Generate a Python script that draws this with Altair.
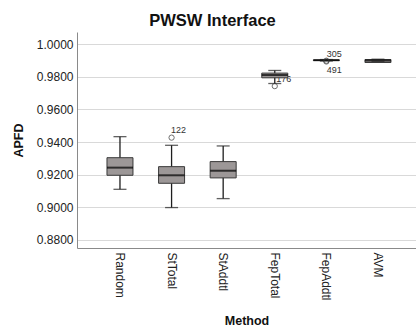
import altair as alt
import pandas as pd

methods = ["Random", "StTotal", "StAddtl", "FepTotal", "FepAddtl", "AVM"]
lower = [0.9110, 0.8998, 0.9053, 0.9759, 0.9897, 0.9896]
q1 = [0.9196, 0.9147, 0.9180, 0.9794, 0.9900, 0.9888]
median = [0.9243, 0.9196, 0.9224, 0.9811, 0.9902, 0.9900]
q3 = [0.9304, 0.9249, 0.9280, 0.9823, 0.9904, 0.9906]
upper = [0.9433, 0.9380, 0.9376, 0.9839, 0.9906, 0.9908]
y_ticks = [0.88, 0.90, 0.92, 0.94, 0.96, 0.98, 1.0]

out_method = ["StTotal", "FepTotal", "FepAddtl", "FepAddtl"]
out_value = [0.9427, 0.9743, 0.9899, 0.9894]
out_label = ["122", "176", "305", "491"]
out_dx = [7, 9, 8, 8]
out_dy = [-8, -7, -7, 8]

stats = pd.DataFrame({"Method": methods, "lower": lower, "q1": q1,
                      "median": median, "q3": q3, "upper": upper})
outs = pd.DataFrame({"Method": out_method, "value": out_value, "label": out_label})

FONT = "Liberation Sans"

xaxis = alt.Axis(labelAngle=90, labelAlign="left", labelBaseline="middle",
                 ticks=False, labelPadding=4, titlePadding=14,
                 labelFontSize=12, titleFontSize=12.5, titleFontWeight="bold",
                 labelColor="#222222", titleColor="#111111",
                 domainColor="#8a8a8a", grid=False)
xscale = alt.Scale(paddingInner=0, paddingOuter=0.285, align=0.584)
yaxis = alt.Axis(values=y_ticks, format=".4f",
                 ticks=False, labelPadding=4, titlePadding=11, labelOverlap=False,
                 labelFontSize=12, titleFontSize=12.5, titleFontWeight="bold",
                 labelColor="#222222", titleColor="#111111",
                 domainColor="#8a8a8a", grid=True, gridColor="#d9d9d9")
yscale = alt.Scale(domain=[0.875, 1.0075], nice=False, zero=False)


def X():
    return alt.X("Method:N", sort=methods, title="Method", scale=xscale, axis=xaxis)


def Y(field):
    return alt.Y(field, scale=yscale, title="APFD", axis=yaxis)


base = alt.Chart(stats)

whisker = base.mark_rule(color="#1e1e1e", strokeWidth=1.3).encode(
    x=X(), y=Y("lower:Q"), y2="upper:Q")

labels = []
for i in range(len(out_label)):
    labels.append(
        alt.Chart(outs.iloc[[i]]).mark_text(font=FONT, fontSize=9, color="#333333",
                                            dx=out_dx[i], dy=out_dy[i]).encode(
            x=X(), y=Y("value:Q"), text="label:N"))

box = base.mark_bar(size=26, color="#9c9797", stroke="#3a3a3a", strokeWidth=1).encode(
    x=X(), y=Y("q1:Q"), y2="q3:Q")

med = base.mark_tick(size=26, thickness=2, color="#000000").encode(
    x=X(), y=Y("median:Q"))

cap_hi = base.mark_tick(size=13, thickness=1.3, color="#1e1e1e").encode(
    x=X(), y=Y("upper:Q"))
cap_lo = base.mark_tick(size=13, thickness=1.3, color="#1e1e1e").encode(
    x=X(), y=Y("lower:Q"))

pts = alt.Chart(outs).mark_point(shape="circle", filled=False, size=28, color="#333333",
                                 strokeWidth=1).encode(x=X(), y=Y("value:Q"))

chart = alt.layer(whisker, *labels, box, med, cap_hi, cap_lo, pts).properties(
    width=339, height=216,
    title=alt.TitleParams("PWSW Interface", font=FONT, fontSize=16.5, fontWeight="bold",
                          color="#111111", anchor="middle", dx=-34, offset=3),
    autosize=alt.AutoSizeParams(type="none"),
    padding={"left": 77, "top": 32, "right": 0, "bottom": 82},
).configure_axis(labelFont=FONT, titleFont=FONT).configure_axisY(
    labelOverlap=False).configure_view(stroke=None)

chart.save("out.html", embed_options={"renderer": "svg", "actions": False})
